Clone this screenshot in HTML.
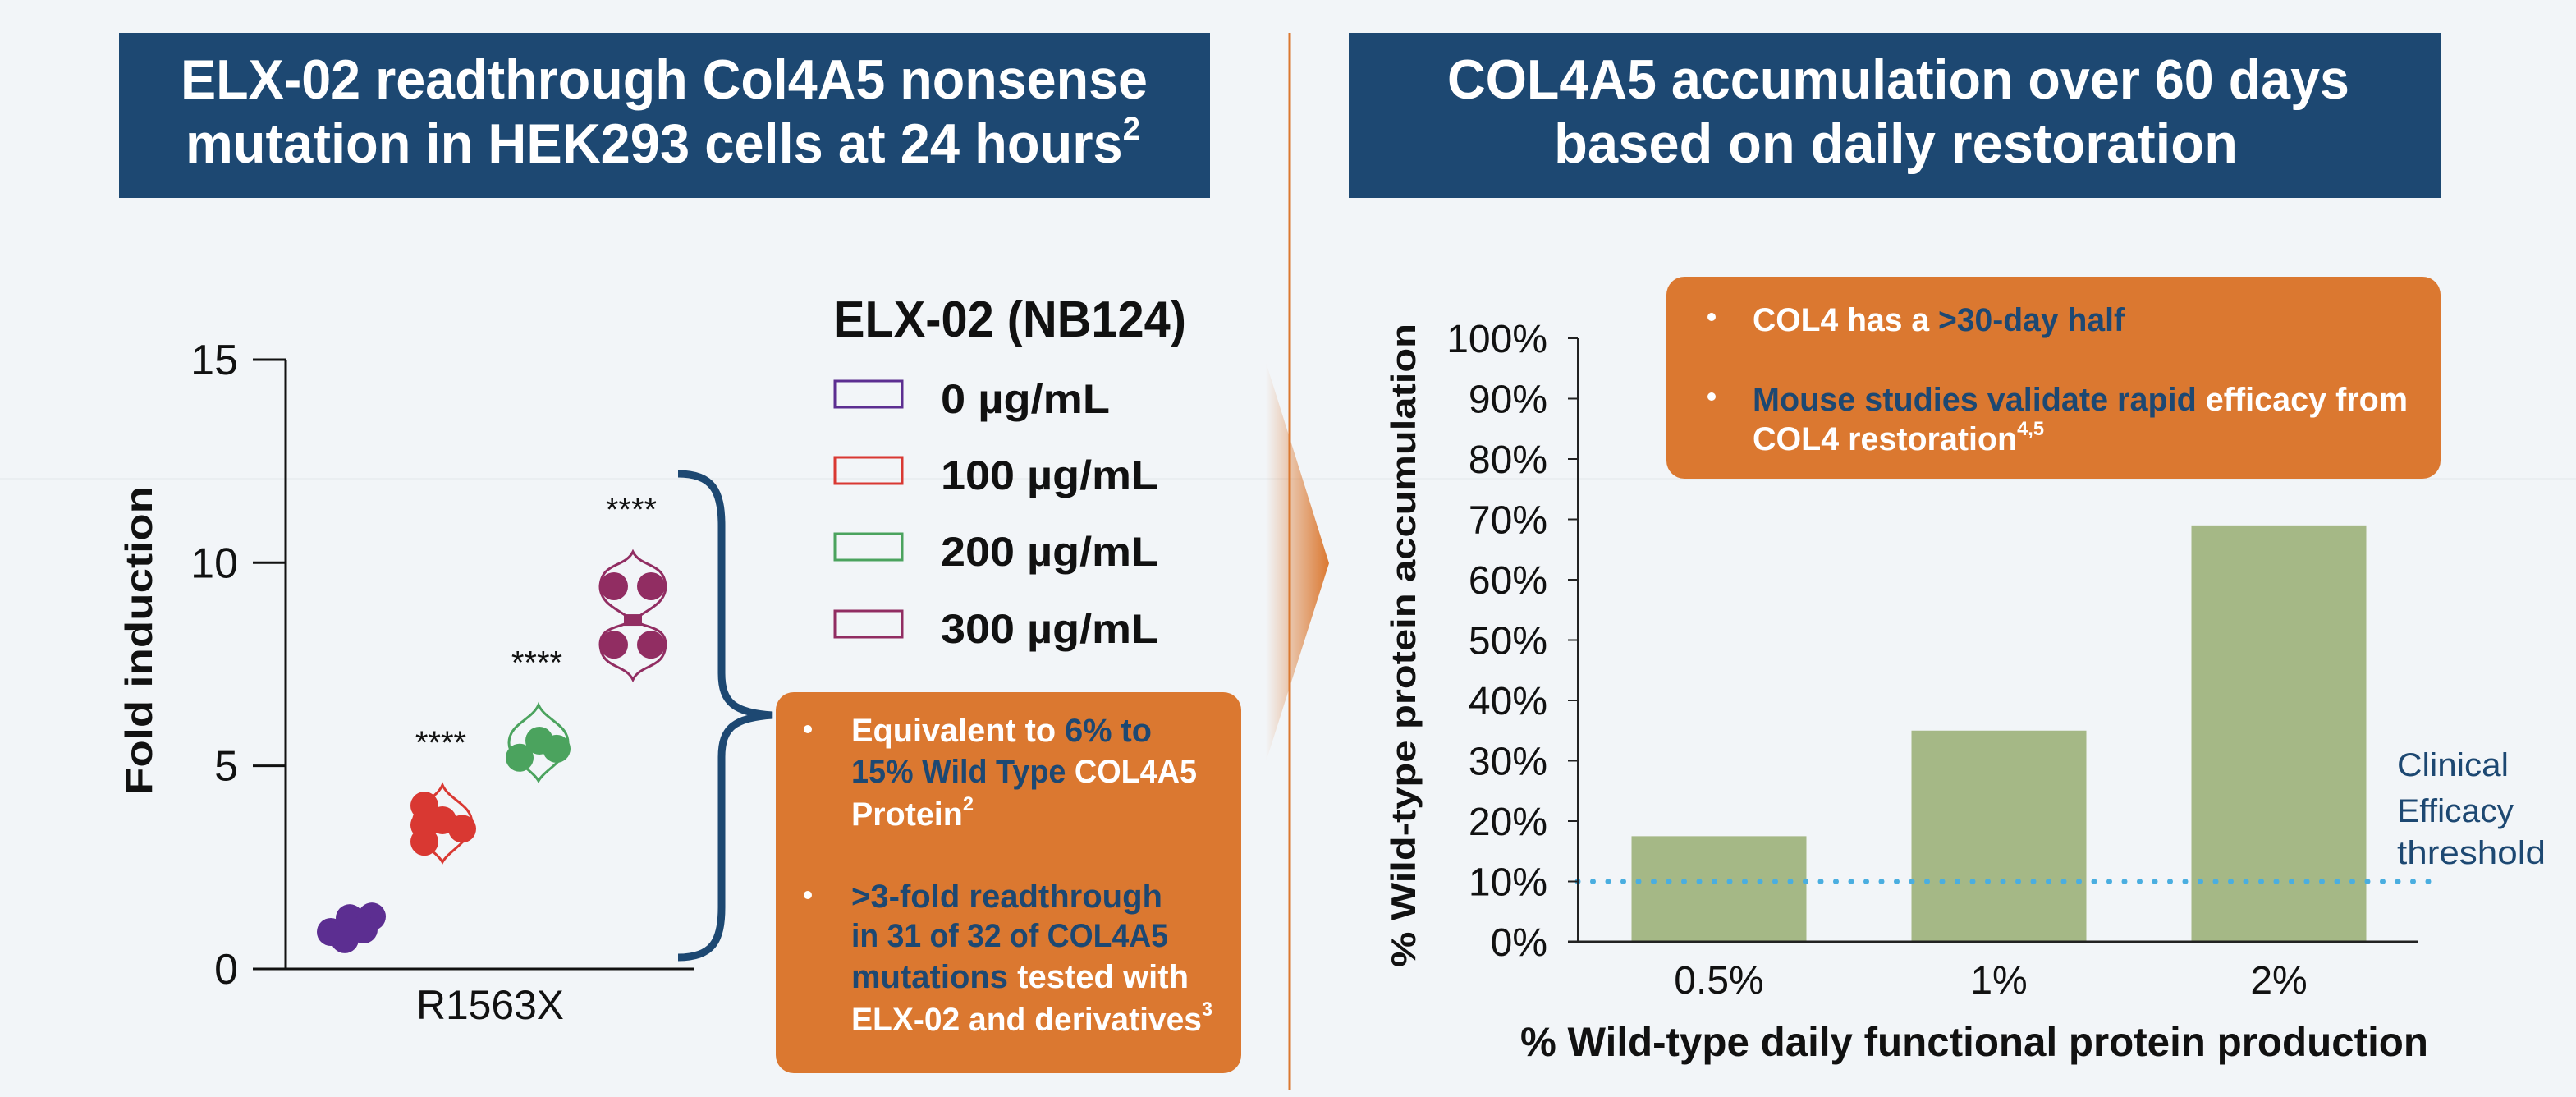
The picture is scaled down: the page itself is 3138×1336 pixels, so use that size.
<!DOCTYPE html>
<html><head><meta charset="utf-8"><title>ELX-02 COL4A5</title>
<style>
html,body{margin:0;padding:0;background:#f2f5f8;}
svg{display:block;}
text{font-family:"Liberation Sans Narrow","Liberation Sans",sans-serif;}
</style></head>
<body>
<svg id="root" width="3138" height="1336" viewBox="0 0 3138 1336" xmlns="http://www.w3.org/2000/svg">
<defs>
<linearGradient id="chev" x1="0" x2="1" y1="0" y2="0">
<stop offset="0" stop-color="#db7830" stop-opacity="0"/>
<stop offset="1" stop-color="#db7830" stop-opacity="1"/>
</linearGradient>
</defs>
<rect x="0" y="0" width="3138" height="1336" fill="#f2f5f8"/>
<line x1="0" y1="583" x2="3138" y2="583" stroke="#eaeef1" stroke-width="2"/>

<!-- headers -->
<g>
<rect x="145" y="40" width="1329" height="201" fill="#1d4872"/>
<text x="220" y="120" font-size="68" font-weight="bold" fill="#fff" textLength="1178" lengthAdjust="spacingAndGlyphs">ELX-02 readthrough Col4A5 nonsense</text>
<text x="226" y="198" font-size="68" font-weight="bold" fill="#fff" textLength="1163" lengthAdjust="spacingAndGlyphs">mutation in HEK293 cells at 24 hours<tspan font-size="40" dy="-28">2</tspan></text>
</g>
<g>
<rect x="1643" y="40" width="1330" height="201" fill="#1d4872"/>
<text x="1763" y="120" font-size="68" font-weight="bold" fill="#fff" textLength="1099" lengthAdjust="spacingAndGlyphs">COL4A5 accumulation over 60 days</text>
<text x="1893" y="198" font-size="68" font-weight="bold" fill="#fff" textLength="833" lengthAdjust="spacingAndGlyphs">based on daily restoration</text>
</g>

<line x1="1571" y1="40" x2="1571" y2="1328" stroke="#db7830" stroke-width="3"/>
<polygon points="1542,441 1619,686 1542,928" fill="url(#chev)"/>

<!-- left chart static -->
<g id="leftChart">
<text transform="translate(185,780) rotate(-90)" text-anchor="middle" font-size="46" font-weight="bold" fill="#111" textLength="376" lengthAdjust="spacingAndGlyphs" style="font-family:'Liberation Sans',sans-serif">Fold induction</text>
<text x="597" y="1241" text-anchor="middle" font-size="50" fill="#111" textLength="180" lengthAdjust="spacingAndGlyphs">R1563X</text>
<g id="leftAxis"></g>
<g id="leftMarks"></g>
</g>

<!-- legend -->
<g>
<text x="1015" y="410" font-size="62" font-weight="bold" fill="#111" textLength="430" lengthAdjust="spacingAndGlyphs">ELX-02 (NB124)</text>
<g id="legendItems"></g>
</g>

<!-- brace -->
<path d="M826,577 C868,577 879,598 879,640 L879,820 C879,856 895,868 941,871 C895,874 879,886 879,922 L879,1105 C879,1146 868,1166 826,1166" fill="none" stroke="#1d4872" stroke-width="9"/>

<!-- left callout -->
<g>
<rect x="945" y="843" width="567" height="464" rx="22" fill="#db7830"/>
<circle cx="984" cy="888" r="5" fill="#fff"/>
<text x="1037" y="903" font-size="40" font-weight="bold" fill="#fff" textLength="366" lengthAdjust="spacingAndGlyphs">Equivalent to <tspan fill="#1d4872">6% to</tspan></text>
<text x="1037" y="953" font-size="40" font-weight="bold" fill="#1d4872" textLength="421" lengthAdjust="spacingAndGlyphs">15% Wild Type <tspan fill="#fff">COL4A5</tspan></text>
<text x="1037" y="1005" font-size="40" font-weight="bold" fill="#fff" textLength="149" lengthAdjust="spacingAndGlyphs">Protein<tspan font-size="24" dy="-18">2</tspan></text>
<circle cx="984" cy="1090" r="5" fill="#fff"/>
<text x="1037" y="1105" font-size="40" font-weight="bold" fill="#1d4872" textLength="379" lengthAdjust="spacingAndGlyphs">&gt;3-fold readthrough</text>
<text x="1037" y="1153" font-size="40" font-weight="bold" fill="#1d4872" textLength="386" lengthAdjust="spacingAndGlyphs">in 31 of 32 of COL4A5</text>
<text x="1037" y="1203" font-size="40" font-weight="bold" fill="#1d4872" textLength="411" lengthAdjust="spacingAndGlyphs">mutations <tspan fill="#fff">tested with</tspan></text>
<text x="1037" y="1255" font-size="40" font-weight="bold" fill="#fff" textLength="440" lengthAdjust="spacingAndGlyphs">ELX-02 and derivatives<tspan font-size="24" dy="-18">3</tspan></text>
</g>

<!-- right chart -->
<g id="rightChart">
<text transform="translate(1724,786) rotate(-90)" text-anchor="middle" font-size="42" font-weight="bold" fill="#111" textLength="784" lengthAdjust="spacingAndGlyphs" style="font-family:'Liberation Sans',sans-serif">% Wild-type protein accumulation</text>
<text x="1852" y="1286" font-size="50" font-weight="bold" fill="#111" textLength="1106" lengthAdjust="spacingAndGlyphs">% Wild-type daily functional protein production</text>
<g id="rightBars"></g>
<g id="rightAxis"></g>
<text x="2920" y="945" font-size="40" fill="#1d4872" textLength="136" lengthAdjust="spacingAndGlyphs">Clinical</text>
<text x="2920" y="1001" font-size="40" fill="#1d4872" textLength="142" lengthAdjust="spacingAndGlyphs">Efficacy</text>
<text x="2920" y="1052" font-size="40" fill="#1d4872" textLength="181" lengthAdjust="spacingAndGlyphs">threshold</text>
</g>

<!-- right callout -->
<g>
<rect x="2030" y="337" width="943" height="246" rx="22" fill="#db7830"/>
<circle cx="2085" cy="386" r="5" fill="#fff"/>
<text x="2135" y="403" font-size="40" font-weight="bold" fill="#fff" textLength="453" lengthAdjust="spacingAndGlyphs">COL4 has a <tspan fill="#1d4872">&gt;30-day half</tspan></text>
<circle cx="2085" cy="483" r="5" fill="#fff"/>
<text x="2135" y="500" font-size="40" font-weight="bold" fill="#1d4872" textLength="798" lengthAdjust="spacingAndGlyphs">Mouse studies validate rapid <tspan fill="#fff">efficacy from</tspan></text>
<text x="2135" y="548" font-size="40" font-weight="bold" fill="#fff" textLength="355" lengthAdjust="spacingAndGlyphs">COL4 restoration<tspan font-size="24" dy="-18">4,5</tspan></text>
</g>
</svg>

<script>
// ---- left chart data ----
const doseLabels = ["0 µg/mL","100 µg/mL","200 µg/mL","300 µg/mL"];
const doseColors = ["#5c2e91","#d93832","#4ba35e","#912d62"];
const foldTicks = [0,5,10,15];
const pointsDose0 = [0.91,1.25,1.29,0.97,0.73];
const pointsDose100 = [4.02,3.54,3.66,3.45,3.13];
const pointsDose200 = [5.2,5.62,5.42];
const pointsDose300 = [9.42,9.42,7.98,7.98];
const medianDose300 = 8.59;
const violinTop = [null,4.53,6.5,10.27];
const violinBottom = [null,2.63,4.63,7.12];
const significance = ["", "****","****","****"];

// ---- right chart data ----
const prodCategories = ["0.5%","1%","2%"];
const accumValues = [17.5,35,69];
const pctTicks = [0,10,20,30,40,50,60,70,80,90,100];
const thresholdValue = 10;

const NS="http://www.w3.org/2000/svg";
function mk(tag, attrs, parent){const e=document.createElementNS(NS,tag);for(const k in attrs)e.setAttribute(k,attrs[k]);parent.appendChild(e);return e;}

// left axis functions
const yL = v => 1180 - v*49.47;
const groupX = [428,539,656,771];
const groupOffsets = [[-25,-2,25,15,-8],[-22,-22,0,24,-22],[-23,1,22],[-23,22,-23,22]];
const allPoints=[pointsDose0,pointsDose100,pointsDose200,pointsDose300];

const la=document.getElementById('leftAxis');
let ax=mk('line',{x1:348,y1:yL(15),x2:348,y2:yL(0),stroke:'#111','stroke-width':3},la);


let bx=mk('line',{x1:308,y1:yL(0),x2:846,y2:yL(0),stroke:'#111','stroke-width':3},la);


foldTicks.forEach(t=>{
  const tk=mk('line',{x1:308,y1:yL(t),x2:348,y2:yL(t),stroke:'#111','stroke-width':3},la);
  
  
  const tl=mk('text',{x:290,y:yL(t)+18,'text-anchor':'end','font-size':52,fill:'#111'},la);
  tl.textContent=String(t);
  
  
});

const lm=document.getElementById('leftMarks');
for(let g=0;g<4;g++){
  const cx=groupX[g], col=doseColors[g];
  if(violinTop[g]!==null){
    const t=yL(violinTop[g]), b=yL(violinBottom[g]);
    let d;
    if(g===3){
      const m=yL(medianDose300), u=yL(pointsDose300[0]), l=yL(pointsDose300[2]);
      d=`M${cx},${t} C${cx+10},${t+20} ${cx+38},${u-30} ${cx+40},${u} C${cx+40},${u+25} ${cx+8},${m-10} ${cx+4},${m} C${cx+8},${m+10} ${cx+40},${l-25} ${cx+40},${l} C${cx+38},${l+30} ${cx+10},${b-20} ${cx},${b} C${cx-10},${b-20} ${cx-38},${l+30} ${cx-40},${l} C${cx-40},${l-25} ${cx-8},${m+10} ${cx-4},${m} C${cx-8},${m-10} ${cx-40},${u+25} ${cx-40},${u} C${cx-38},${u-30} ${cx-10},${t+20} ${cx},${t} Z`;
    } else {
      const h=b-t, w=36;
      d=`M${cx},${t} C${cx+8},${t+h*0.2} ${cx+w},${t+h*0.25} ${cx+w},${t+h*0.5} C${cx+w},${t+h*0.72} ${cx+8},${b-h*0.15} ${cx},${b} C${cx-8},${b-h*0.15} ${cx-w},${t+h*0.72} ${cx-w},${t+h*0.5} C${cx-w},${t+h*0.25} ${cx-8},${t+h*0.2} ${cx},${t} Z`;
    }
    const v=mk('path',{d:d,fill:'none',stroke:col,'stroke-width':3},lm);
    
    
  }
  allPoints[g].forEach((val,i)=>{
    const c=mk('circle',{cx:cx+groupOffsets[g][i%groupOffsets[g].length],cy:yL(val),r:17,fill:col},lm);
    
    
  });
  if(g===3){
    const md=mk('rect',{x:cx-11,y:yL(medianDose300)-7,width:22,height:14,fill:col},lm);
    
    
  }
  if(significance[g]){
    const s=mk('text',{x:cx-2,y:yL(violinTop[g])-38,'text-anchor':'middle','font-size':40,fill:'#111',style:"font-family:'Liberation Sans',sans-serif"},lm);
    s.textContent=significance[g];
    
    
  }
}

// legend
const li=document.getElementById('legendItems');
const legY=[480,573,666,760];
doseLabels.forEach((lab,i)=>{
  const r=mk('rect',{x:1017,y:legY[i]-16,width:82,height:32,fill:'none',stroke:doseColors[i],'stroke-width':3},li);
  
  
  const t=mk('text',{x:1146,y:legY[i]+23,'font-size':50,'font-weight':'bold',fill:'#111',textLength:(i===0?206:265),lengthAdjust:'spacingAndGlyphs'},li);
  t.textContent=lab;
  
  
});

// right axis functions
const yR = v => 1147 - v*7.35;
const xR = i => 2094 + i*341;
const barW = 213;
const rb=document.getElementById('rightBars');
accumValues.forEach((v,i)=>{
  const r=mk('rect',{x:xR(i)-barW/2,y:yR(v),width:barW,height:yR(0)-yR(v),fill:'#a5b886'},rb);
  
  
  const t=mk('text',{x:xR(i),y:1210,'text-anchor':'middle','font-size':48,fill:'#111'},rb);
  t.textContent=prodCategories[i];
  
  
});
const th=mk('line',{x1:1922,y1:yR(thresholdValue),x2:2966,y2:yR(thresholdValue),stroke:'#4aaee0','stroke-width':7,'stroke-dasharray':'0 18.5','stroke-linecap':'round'},rb);


const ra=document.getElementById('rightAxis');
let ry=mk('line',{x1:1922,y1:yR(100),x2:1922,y2:yR(0),stroke:'#222','stroke-width':2},ra);


let rx=mk('line',{x1:1910,y1:yR(0),x2:2946,y2:yR(0),stroke:'#222','stroke-width':3},ra);


pctTicks.forEach(t=>{
  const tk=mk('line',{x1:1910,y1:yR(t),x2:1922,y2:yR(t),stroke:'#222','stroke-width':2},ra);
  
  
  const tl=mk('text',{x:1885,y:yR(t)+17,'text-anchor':'end','font-size':48,fill:'#111'},ra);
  tl.textContent=t+'%';
  
  
});
</script>
</body></html>
